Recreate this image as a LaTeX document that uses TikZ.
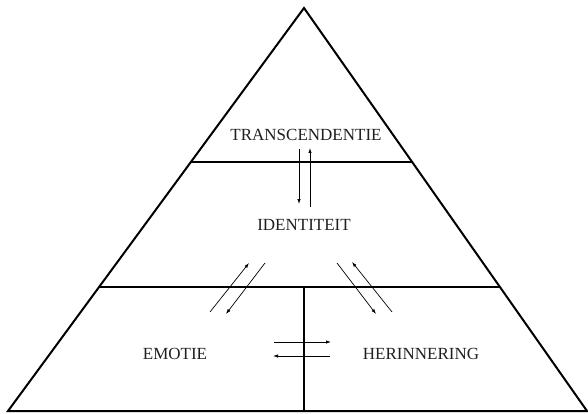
\documentclass[tikz,border=0pt]{standalone}
\usepackage{fontspec}
\setmainfont{Liberation Serif}
\usetikzlibrary{arrows.meta,calc}
\begin{document}
\begin{tikzpicture}[x=1pt,y=-1pt]
\tikzstyle{every node}=[font=\fontsize{17}{19}\selectfont,text=black!88]
\tikzstyle{wall}=[line width=2pt]
\tikzstyle{flow}=[line width=0.7pt,-{Latex[length=5pt,width=3.4pt]}]
\useasboundingbox (0,0) rectangle (588,414);
\coordinate (top) at (304,8);
\coordinate (bl) at (8,411);
\coordinate (br) at (587,411);
\draw[wall,line join=miter] (bl) -- (top) -- (br) -- cycle;
% the two floors and the wall between the lower rooms
\foreach \a/\t in {f1/{154/403}, f2/{279/403}}{
\coordinate (\a l) at ($(top)!\t!(bl)$);
\coordinate (\a r) at ($(top)!\t!(br)$);
\draw[wall] (\a l) -- (\a r);}
\coordinate (m) at (top |- f2l);
\draw[wall] (m) -- (m |- bl);
\path (306,135) node (trans) {TRANSCENDENTIE};
\path (304,225) node (ident) {IDENTITEIT};
\path (175,354) node (emo) {EMOTIE};
\path (421,354) node (her) {HERINNERING};
% arrows
\foreach \n/\x/\y in {s1/299/149, e1/299/204, s2/310/207, e2/310/148,
  s3/210/312, e3/249/263, s4/265/263, e4/226/314,
  s5/337/263, e5/376/314, s6/392/312, e6/352/262,
  s7/274/342, e7/331/342, s8/330/356, e8/273/356}
\coordinate (\n) at (\x,\y);
\foreach \k in {1,...,8}
\draw[flow] (s\k) -- (e\k);
\end{tikzpicture}
\end{document}
